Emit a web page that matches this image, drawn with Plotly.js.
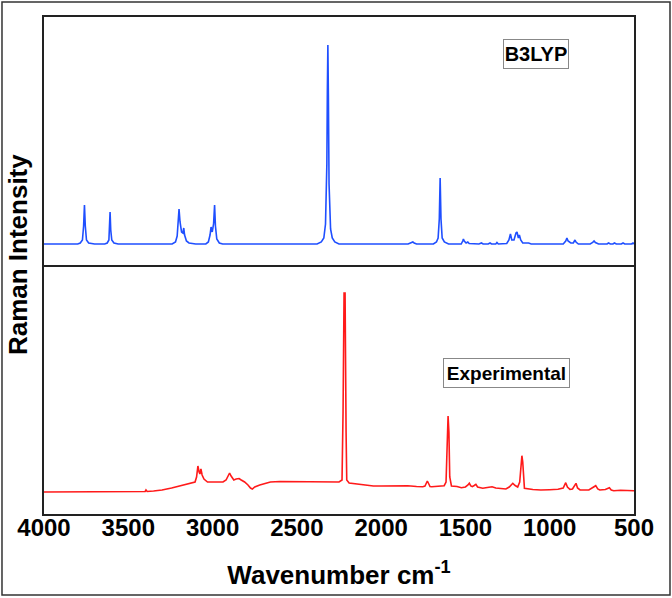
<!DOCTYPE html>
<html>
<head>
<meta charset="utf-8">
<script src="https://cdn.plot.ly/plotly-3.0.1.min.js"></script>
<style>html,body{margin:0;padding:0;background:#fff;}#chart{width:672px;height:598px;}</style>
</head>
<body>
<div id="chart"></div>
<script>
// B3LYP (calculated) Raman spectrum: wavenumber (cm-1) and relative intensity
const calcWavenumber = [4000,3800,3785,3772,3765,3760,3755,3748,3735,3700,
  3640,3625,3615,3612,3608,3604,3598,3585,3560,
  3240,3220,3210,3203,3199,3193,3184,3176,3171,3166,3155,3140,3100,
  3040,3025,3015,3009,3002,2994,2988,2983,2975,2960,2940,
  2380,2355,2340,2330,2322,2319,2316,2313,2309,2300,2290,2275,2250,
  1840,1820,1812,1804,1790,
  1690,1672,1662,1655,1650,1645,1638,1625,1600,
  1525,1516,1512,1507,1496,1486,1478,1420,1405,1395,1365,1354,1345,1320,1313,1305,
  1255,1242,1233,1225,1212,1200,1194,1186,1180,1172,1160,1125,1110,
  920,905,898,891,875,860,850,844,830,760,745,737,729,710,660,651,640,625,616,605,575,565,555,515,506,500];
const calcIntensity = [0,0,1,4,18,39,18,4,1,0,
  0,1,4,14,32,14,4,1,0,
  0,2,8,25,35,22,12,11,16,9,3,1,0,
  0,2,9,17,12,20,39,18,5,1,0,
  0,2,6,20,80,154,199,150,60,15,6,2,0,
  0,1,2,1,0,
  0,2,6,25,66,25,6,2,0,
  0,3,5,3,1,2,0.5,0,1,0,0,1,0,0,1.5,0,
  0.5,4,10,4,4,11,12,6,9,4,1,1,0,
  0,3,6,3,1,1,4,2,0,0,1.5,3,1.5,0,0,1,0,0,1,0,0,1,0,0,1,0];

// Experimental Raman spectrum
const expWavenumber = [4000,3700,3420,3400,3395,3388,3350,3300,3243,3200,3150,3104,3095,3087,3080,3075,3069,3062,3051,3030,3015,
  2980,2938,2920,2905,2899,2890,2874,2860,2843,2830,2810,2790,2775,2764,2750,2720,2680,2657,2600,2550,2479,2400,2350,2300,2250,
  2232,2226,2220,2214,2208,2204,2190,2149,2100,2046,2000,1900,1842,1790,1753,1740,1730,1726,1720,1710,1700,1626,1615,1608,1603,1598,1593,1583,
  1550,1524,1500,1485,1477,1468,1459,1448,1438,1428,1397,1370,1342,1320,1309,1280,1260,1240,1225,1219,1205,1190,1178,1170,1165,1160,1155,1150,
  1100,1053,1000,951,920,905,895,880,865,852,844,835,820,768,745,727,715,703,670,646,635,620,580,540,500];
const expIntensity = [0,0.3,0.5,0.5,2,0.5,1,2,4,6,8,10,15,26,20,18,23,17,13,10,10,
  10,10,12,18,19,16,12,13,13.5,12,10,7,4,3,5,7,9,10,10.5,10.5,10.7,10.5,10,10.5,10,
  12,80,199,199,60,12,9,8,7,6,6,6.3,6.3,5.5,5.3,6,10,11,9,5.5,5.3,6.3,10,50,76,60,15,6,
  5.5,4.3,5,7,8.7,6,5.3,6.5,7.7,5,3.7,4.5,5.3,4,3.7,3.5,3,5,8,8.7,6.5,5,10,33,36.3,30,8,3.7,
  2.5,2,2.3,2.7,4,9.3,5,2.7,3,6,8.7,4,2,2,4,6.3,3,2,2.5,4.3,2,1.3,1.7,1.3,1.3];

const xTickVals = [4000,3500,3000,2500,2000,1500,1000,500];
const panelLabels = ["B3LYP","Experimental"];

const frame = '#222';
const FONT = 'Liberation Sans, Arial, sans-serif';
const tickFont = {family:FONT, size:24, color:'#000', weight:'bold'};

const traces = [
  {x:calcWavenumber, y:calcIntensity, xaxis:'x2', yaxis:'y2', type:'scatter', mode:'lines',
   line:{color:'#1f4fff', width:1.6}, hoverinfo:'skip'},
  {x:expWavenumber, y:expIntensity, xaxis:'x', yaxis:'y', type:'scatter', mode:'lines',
   line:{color:'#ff1a1a', width:1.6}, hoverinfo:'skip'}
];

const layout = {
  width:672, height:598,
  margin:{l:44, r:38, t:17, b:84},
  paper_bgcolor:'#fff', plot_bgcolor:'#fff',
  showlegend:false,
  xaxis:{domain:[0,1], range:[4000,500], anchor:'y', tickvals:xTickVals, ticktext:xTickVals.map(String),
    showgrid:false, zeroline:false, showline:true, mirror:true, linecolor:frame, linewidth:2,
    ticks:'', tickfont:tickFont, ticklabelstandoff:-9,
    title:{text:'<b>Wavenumber cm<sup>-1</sup></b>', font:{family:FONT, size:26, color:'#000'}, standoff:26}},
  yaxis:{domain:[0,0.497], range:[-22,225], anchor:'x', showticklabels:false, ticks:'',
    showgrid:false, zeroline:false, showline:true, mirror:true, linecolor:frame, linewidth:2},
  xaxis2:{domain:[0,1], range:[4000,500], anchor:'y2', side:'top', showticklabels:false, ticks:'',
    showgrid:false, zeroline:false, showline:true, mirror:false, linecolor:frame, linewidth:2},
  yaxis2:{domain:[0.497,1], range:[-23,227], anchor:'x2', showticklabels:false, ticks:'',
    showgrid:false, zeroline:false, showline:true, mirror:true, linecolor:frame, linewidth:2},
  annotations:[
    {text:'<b>'+panelLabels[0]+'</b>', xref:'paper', yref:'paper', x:0.8347, y:0.9256, xanchor:'center', yanchor:'middle',
     showarrow:false, font:{family:FONT, size:20, color:'#000'}, width:62, height:26,
     bordercolor:'#888', borderwidth:1, borderpad:1, bgcolor:'#fff'},
    {text:'<b>'+panelLabels[1]+'</b>', xref:'paper', yref:'paper', x:0.7835, y:0.2837, xanchor:'center', yanchor:'middle',
     showarrow:false, font:{family:FONT, size:19, color:'#000'}, width:123, height:26,
     bordercolor:'#888', borderwidth:1, borderpad:1, bgcolor:'#fff'},
    {text:'<b>Raman Intensity</b>', xref:'paper', yref:'paper', x:-0.044, y:0.521, xanchor:'center', yanchor:'middle',
     textangle:-90, showarrow:false, font:{family:FONT, size:26, color:'#000'}}
  ],
  shapes:[
    {type:'rect', xref:'paper', yref:'paper', x0:-0.0712, x1:1.061, y0:-0.163, y1:1.0302,
     line:{color:'#333', width:1.5}, fillcolor:'rgba(0,0,0,0)'}
  ]
};

Plotly.newPlot('chart', traces, layout, {staticPlot:true, displayModeBar:false});
</script>
</body>
</html>
